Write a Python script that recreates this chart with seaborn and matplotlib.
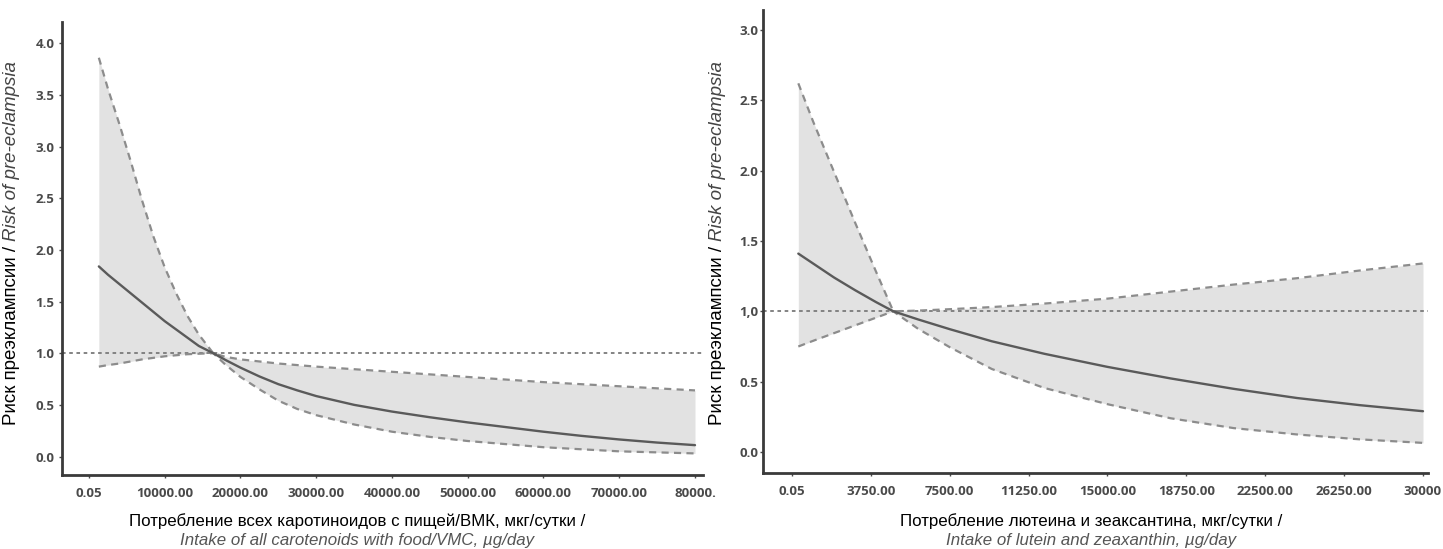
import numpy as np
import pandas as pd
import matplotlib
matplotlib.use("Agg")
import matplotlib.pyplot as plt
import seaborn as sns

# ---------------- data ----------------
# Left panel: all carotenoids
left_x = [1300, 2500, 4000, 5500, 7000, 8500, 10000, 11500, 13000, 14500, 16400,
          18000, 20000, 22500, 25000, 27500, 30000, 35000, 40000, 45000, 50000,
          55000, 60000, 65000, 70000, 75000, 80000]
left_mid = [1.84, 1.76, 1.67, 1.58, 1.49, 1.40, 1.31, 1.23, 1.15, 1.07, 1.00,
            0.935, 0.86, 0.775, 0.70, 0.64, 0.585, 0.50, 0.435, 0.38, 0.33,
            0.285, 0.24, 0.20, 0.165, 0.135, 0.11]
left_up = [3.86, 3.56, 3.22, 2.86, 2.48, 2.13, 1.83, 1.58, 1.36, 1.18, 1.00,
           0.965, 0.94, 0.92, 0.90, 0.885, 0.87, 0.845, 0.82, 0.795, 0.77,
           0.745, 0.72, 0.70, 0.68, 0.66, 0.64]
left_lo = [0.87, 0.885, 0.90, 0.92, 0.94, 0.955, 0.97, 0.98, 0.99, 0.995, 1.00,
           0.89, 0.77, 0.65, 0.54, 0.46, 0.40, 0.31, 0.24, 0.19, 0.15,
           0.12, 0.09, 0.07, 0.05, 0.04, 0.03]
left_xticks = [0.05, 10000, 20000, 30000, 40000, 50000, 60000, 70000, 80000]
left_xticklabels = ["0.05", "10000.00", "20000.00", "30000.00", "40000.00",
                    "50000.00", "60000.00", "70000.00", "80000."]
left_yticks = [0.0, 0.5, 1.0, 1.5, 2.0, 2.5, 3.0, 3.5, 4.0]
left_yticklabels = ["0.0", "0.5", "1.0", "1.5", "2.0", "2.5", "3.0", "3.5", "4.0"]

# Right panel: lutein and zeaxanthin
right_x = [300, 1000, 2000, 3000, 4000, 4816, 6000, 7500, 9500, 12000, 15000,
           18000, 21000, 24000, 27000, 30000]
right_mid = [1.41, 1.34, 1.24, 1.15, 1.065, 1.00, 0.942, 0.873, 0.787, 0.698,
             0.605, 0.523, 0.449, 0.384, 0.333, 0.29]
right_up = [2.62, 2.35, 1.99, 1.63, 1.28, 1.00, 1.005, 1.015, 1.03, 1.055,
            1.09, 1.14, 1.19, 1.235, 1.29, 1.34]
right_lo = [0.75, 0.79, 0.845, 0.90, 0.955, 1.00, 0.875, 0.745, 0.59, 0.455,
            0.34, 0.24, 0.17, 0.125, 0.09, 0.065]
right_xticks = [0.05, 3750, 7500, 11250, 15000, 18750, 22500, 26250, 30000]
right_xticklabels = ["0.05", "3750.00", "7500.00", "11250.00", "15000.00",
                     "18750.00", "22500.00", "26250.00", "30000"]
right_yticks = [0.0, 0.5, 1.0, 1.5, 2.0, 2.5, 3.0]
right_yticklabels = ["0.0", "0.5", "1,0", "1.5", "2.0", "2.5", "3.0"]

ref_value = 1.0

ylabel_ru = "Риск преэклампсии /"
ylabel_en = "Risk of pre-eclampsia"
left_xlabel_ru = "Потребление всех каротиноидов с пищей/ВМК, мкг/сутки /"
left_xlabel_en = "Intake of all carotenoids with food/VMC, µg/day"
right_xlabel_ru = "Потребление лютеина и зеаксантина, мкг/сутки /"
right_xlabel_en = "Intake of lutein and zeaxanthin, µg/day"

# ---------------- style ----------------
sns.set_theme(style="white")
plt.rcParams["font.family"] = ["Liberation Sans", "DejaVu Sans"]

W, H = 1443, 549
fig = plt.figure(figsize=(W / 100, H / 100), dpi=100)


def rect(x0, y0, x1, y1):
    return [x0 / W, 1 - y1 / H, (x1 - x0) / W, (y1 - y0) / H]


axL = fig.add_axes(rect(62, 22, 703, 475))
axR = fig.add_axes(rect(763, 10, 1428, 473))

MID_C = "#5a5a5a"
CI_C = "#8c8c8c"
FILL_C = "#e2e2e2"
REF_C = "#7a7a7a"
SPINE_C = "#3a3a3a"
TICK_C = "#4a4a4a"


def draw_panel(ax, xs, mid, up, lo, xlim, ylim, xticks, xtl, yticks, ytl):
    df = pd.DataFrame({"x": xs, "mid": mid, "up": up, "lo": lo})
    ax.fill_between(df["x"], df["lo"], df["up"], color=FILL_C, lw=0, zorder=1)
    ax.axhline(ref_value, color=REF_C, lw=1.3, ls=(0, (2, 2)), zorder=2)
    sns.lineplot(data=df, x="x", y="up", ax=ax, color=CI_C, lw=1.6, zorder=3)
    ax.lines[-1].set_dashes([3.2, 2.4])
    sns.lineplot(data=df, x="x", y="lo", ax=ax, color=CI_C, lw=1.6, zorder=3)
    ax.lines[-1].set_dashes([3.2, 2.4])
    sns.lineplot(data=df, x="x", y="mid", ax=ax, color=MID_C, lw=1.7, zorder=4)
    ax.set_xlim(*xlim)
    ax.set_ylim(*ylim)
    ax.set_xticks(xticks)
    ax.set_xticklabels(xtl)
    ax.set_yticks(yticks)
    ax.set_yticklabels(ytl)
    ax.set_xlabel("")
    ax.set_ylabel("")
    for s in ["top", "right"]:
        ax.spines[s].set_visible(False)
    for s in ["left", "bottom"]:
        ax.spines[s].set_color(SPINE_C)
        ax.spines[s].set_linewidth(2.0)
    ax.tick_params(axis="both", which="major", direction="out", length=2.5,
                   width=1.0, color=TICK_C, labelcolor=TICK_C, pad=3,
                   left=True, bottom=True)
    for lab in ax.get_xticklabels() + ax.get_yticklabels():
        lab.set_fontfamily(["Open Sans", "DejaVu Sans"])
        lab.set_fontweight("bold")
        lab.set_fontsize(9.5)
    ax.set_facecolor("white")


draw_panel(axL, left_x, left_mid, left_up, left_lo, (-3564, 81056), (-0.179, 4.206),
           left_xticks, left_xticklabels, left_yticks, left_yticklabels)
draw_panel(axR, right_x, right_mid, right_up, right_lo, (-1379, 30238), (-0.149, 3.141),
           right_xticks, right_xticklabels, right_yticks, right_yticklabels)
axR.tick_params(axis="y", pad=1)
axL.tick_params(axis="x", pad=6)
axR.tick_params(axis="x", pad=6)

# ---------------- x labels ----------------
FSX = 12.2
FSY = 13.5
fig.text(357 / W, 1 - 521 / H, left_xlabel_ru, ha="center", va="center",
         fontsize=FSX, color="black")
fig.text(357 / W, 1 - 540 / H, left_xlabel_en, ha="center", va="center",
         fontsize=FSX, color="#555555", fontstyle="italic")
fig.text(1091 / W, 1 - 521 / H, right_xlabel_ru, ha="center", va="center",
         fontsize=FSX, color="black")
fig.text(1091 / W, 1 - 540 / H, right_xlabel_en, ha="center", va="center",
         fontsize=FSX, color="#555555", fontstyle="italic")

# ---------------- y labels (mixed style) ----------------
fig.canvas.draw()
renderer = fig.canvas.get_renderer()


def vlabel(xpix, ycenter_pix):
    t1 = fig.text(xpix / W, 0, ylabel_ru, rotation=90, ha="center", va="bottom",
                  fontsize=FSY, color="black")
    t2 = fig.text(xpix / W, 0, ylabel_en, rotation=90, ha="center", va="bottom",
                  fontsize=FSY, color="#444444", fontstyle="italic")
    h1 = t1.get_window_extent(renderer).height
    h2 = t2.get_window_extent(renderer).height
    gap = 4.5
    total = h1 + gap + h2
    ybot = (H - ycenter_pix) - total / 2
    t1.set_y(ybot / H)
    t2.set_y((ybot + h1 + gap) / H)


vlabel(12, 243)
vlabel(718, 243)

fig.savefig("out.png", dpi=100, facecolor="white")
